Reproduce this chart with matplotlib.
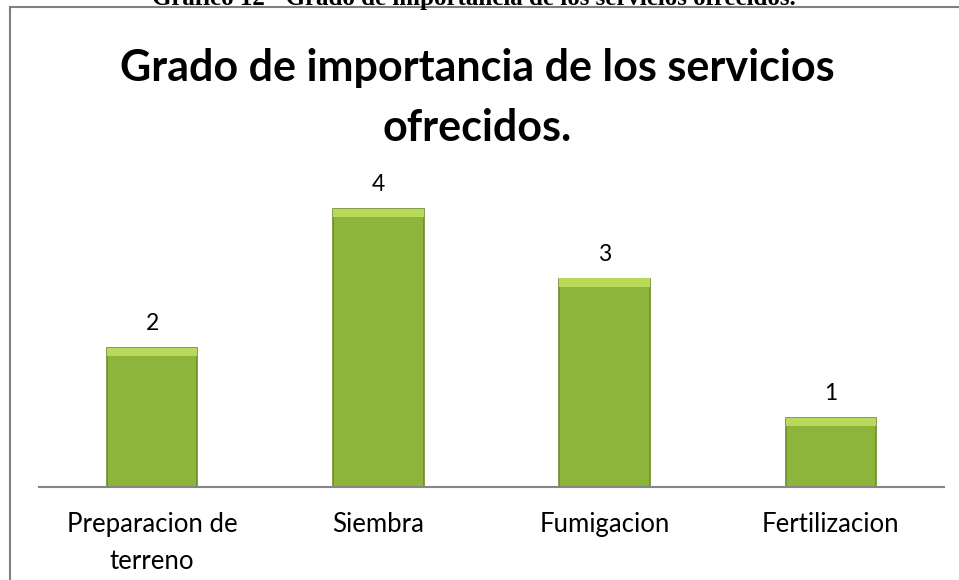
import matplotlib
matplotlib.use("Agg")
import matplotlib.pyplot as plt
from matplotlib.lines import Line2D

# datos del grafico
categorias = ["Preparacion de\nterreno", "Siembra", "Fumigacion", "Fertilizacion"]
valores = [2, 4, 3, 1]
titulo = "Grado de importancia de los servicios\nofrecidos."
leyenda_doc = "Grafico 12 - Grado de importancia de los servicios ofrecidos."

verde = "#8db53c"
verde_claro = "#b8d95a"
borde = "#6d8c2a"

fig = plt.figure(figsize=(9.59, 5.8), dpi=100)
fig.patch.set_facecolor("white")

# marco del grafico (izquierda y arriba)
fig.add_artist(Line2D([10/959, 10/959], [0, 1 - 7/580], color="#808080", lw=1.5))
fig.add_artist(Line2D([10/959, 1], [1 - 7/580, 1 - 7/580], color="#808080", lw=1.5))

# texto del documento, cortado arriba como en la imagen original
fig.text(0.494, 1 + 1/580, leyenda_doc, ha="center", va="center",
         family="Liberation Serif", weight="bold", fontsize=18)

ax = fig.add_axes([39/959, 1 - 487/580, 905/959, 5*69.5/580])
x = range(len(valores))
ax.bar(x, valores, width=0.4, color=verde, edgecolor=borde, linewidth=1.2, zorder=2)
# brillo en la parte superior de cada barra
ax.bar(x, [0.12]*len(valores), bottom=[v - 0.12 for v in valores], width=0.4,
       color=verde_claro, linewidth=0, zorder=3)

for i, v in zip(x, valores):
    ax.text(i, v + 0.2, str(v), ha="center", va="bottom", fontsize=16.5, family="Lato")

ax.set_xlim(-0.5, len(valores) - 0.5)
ax.set_ylim(0, 5)
ax.set_xticks(list(x))
ax.set_xticklabels(categorias, fontsize=18.5, family="Lato", linespacing=1.58)
ax.tick_params(axis="x", length=0, pad=18)
ax.set_yticks([])
for s in ["top", "right", "left"]:
    ax.spines[s].set_visible(False)
ax.spines["bottom"].set_color("#868686")
ax.spines["bottom"].set_linewidth(1.5)

fig.text(0.498, 1 - 98/580, titulo, ha="center", va="center", family="Lato",
         weight="bold", fontsize=31, linespacing=1.6)

fig.savefig("out.png", dpi=100)
